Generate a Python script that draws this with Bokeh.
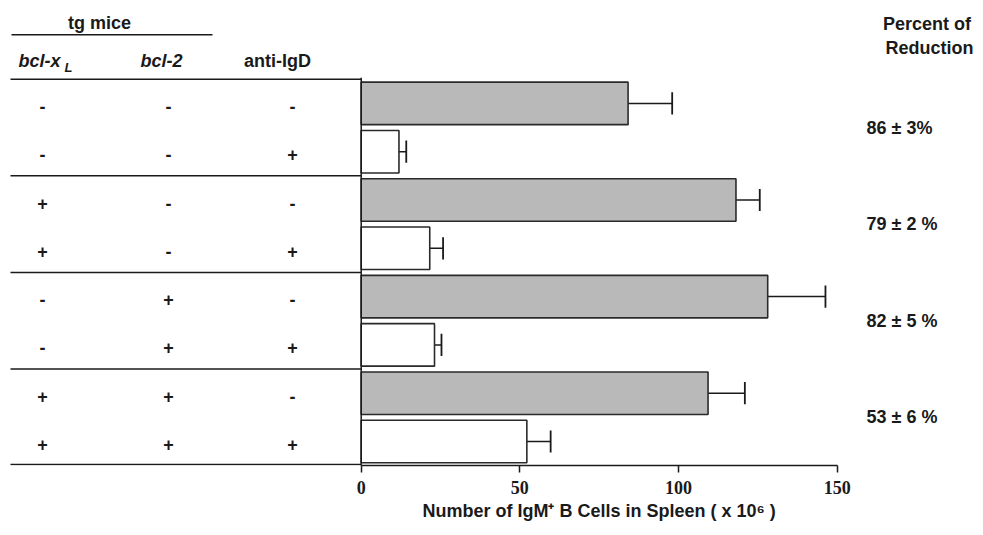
from bokeh.plotting import figure
from bokeh.models import Range1d, FixedTicker, ColumnDataSource, Title
from bokeh.core.properties import value
from bokeh.embed import file_html
from bokeh.resources import INLINE

# ---- data ----
bcl_xl = ["-", "-", "+", "+", "-", "-", "+", "+"]
bcl_2 = ["-", "-", "-", "-", "+", "+", "+", "+"]
anti_igd = ["-", "+", "-", "+", "-", "+", "-", "+"]
igm_cells = [84.1, 11.9, 118.1, 21.6, 128.1, 23.1, 109.3, 52.2]
igm_err = [13.9, 2.3, 7.5, 4.2, 18.2, 2.2, 11.6, 7.5]
reduction = ["86 ± 3%", "79 ± 2 %", "82 ± 5 %", "53 ± 6 %"]
x_ticks = [0, 50, 100, 150]
header_cols = ["bcl-x", "bcl-2", "anti-IgD"]
x_title = "Number of IgM⁺ B Cells in Spleen ( x 10⁶ )"

# ---- layout helpers (reference pixel -> data units) ----
PX = 476.0 / 150.0
X0 = 360.7
ROW1 = 102.9
RH = 48.3


def X(rx):
    return (rx - X0) / PX


def Y(ry):
    return 1 + (ry - ROW1) / RH


W, H = 975, 527
FRAME_BOTTOM = 465
SANS = value("Liberation Sans")
INK = "#1a1a1a"

p = figure(width=W, height=H, output_backend="svg", toolbar_location=None,
           x_range=Range1d(X(0), X(W)), y_range=Range1d(Y(FRAME_BOTTOM), Y(0)),
           y_axis_location=None, min_border_left=0, min_border_right=0,
           min_border_top=0, min_border_bottom=H - FRAME_BOTTOM)
p.grid.visible = False
p.outline_line_color = None
p.background_fill_color = "white"
p.border_fill_color = "white"

rows = list(range(1, len(igm_cells) + 1))
fills = ["#b9b9b9" if a == "-" else "white" for a in anti_igd]
ends = [c + e for c, e in zip(igm_cells, igm_err)]
src = ColumnDataSource(dict(
    y=rows, right=igm_cells, end=ends, fill=fills,
    cap0=[r - 0.23 for r in rows], cap1=[r + 0.23 for r in rows],
    c1=bcl_xl, c2=bcl_2, c3=anti_igd,
))

# error bars
p.segment(x0="right", y0="y", x1="end", y1="y", source=src,
          line_color=INK, line_width=1.5)
p.segment(x0="end", y0="cap0", x1="end", y1="cap1", source=src,
          line_color=INK, line_width=1.8)
# bars
p.hbar(y="y", left=0, right="right", height=0.88, source=src,
       fill_color="fill", line_color="#2a2a2a", line_width=1.6)

# table lines
n_groups = len(reduction)
hy = [0.5 + 2 * g for g in range(n_groups)] + [Y(464)]
p.segment(x0=[X(10)] * len(hy), y0=hy, x1=[0] * len(hy), y1=hy,
          line_color=INK, line_width=1.5)
p.segment(x0=[0], y0=[0.47], x1=[0], y1=[Y(475)], line_color=INK, line_width=1.5)
p.segment(x0=[X(11)], y0=[Y(34.3)], x1=[X(212)], y1=[Y(34.3)],
          line_color=INK, line_width=1.5)

tstyle = dict(text_font=SANS, text_font_style="bold", text_color=INK,
              text_baseline="middle")

# table symbols
for col, rx in (("c1", 42), ("c2", 168), ("c3", 292)):
    p.text(x=X(rx), y="y", text=col, source=src, text_align="center",
           text_font_size="18px", y_offset=3, **tstyle)

# headers
p.text(x=[X(99)], y=[Y(22)], text=["tg mice"], text_align="center",
       text_font_size="18px", **tstyle)
p.text(x=[X(18)], y=[Y(60)], text=[header_cols[0]], text_align="left",
       text_font_size="18px", text_font=SANS, text_font_style="bold italic",
       text_color=INK, text_baseline="middle")
p.text(x=[X(64)], y=[Y(67)], text=["L"], text_align="left",
       text_font_size="13px", text_font=SANS, text_font_style="bold italic",
       text_color=INK, text_baseline="middle")
p.text(x=[X(161)], y=[Y(60)], text=[header_cols[1]], text_align="center",
       text_font_size="18px", text_font=SANS, text_font_style="bold italic",
       text_color=INK, text_baseline="middle")
p.text(x=[X(277)], y=[Y(60)], text=[header_cols[2]], text_align="center",
       text_font_size="18px", **tstyle)
p.text(x=[X(929)] * 2, y=[Y(23), Y(47)], text=["Percent  of", "Reduction"],
       text_align="center", text_font_size="18px", **tstyle)

# percent of reduction
p.text(x=[X(866)] * n_groups, y=[1.5 + 2 * g for g in range(n_groups)],
       text=reduction, text_align="left", text_font_size="18px", **tstyle)

# x axis
ax = p.xaxis[0]
ax.ticker = FixedTicker(ticks=x_ticks)
ax.bounds = (x_ticks[0], x_ticks[-1])
ax.axis_line_color = INK
ax.axis_line_width = 1.5
ax.major_tick_line_color = INK
ax.major_tick_line_width = 1.5
ax.major_tick_in = 0
ax.major_tick_out = 7
ax.minor_tick_line_color = None
ax.major_label_text_font = "Liberation Serif"
ax.major_label_text_font_style = "bold"
ax.major_label_text_font_size = "18px"
ax.major_label_text_color = INK
ax.major_label_standoff = 8

# axis title, placed under the bounded axis
p.add_layout(Title(text=x_title, align="left", offset=422, standoff=4,
                   text_font="Liberation Sans", text_font_style="bold",
                   text_font_size="18px", text_color=INK), "below")

open("out.html", "w").write(file_html(p, INLINE))
